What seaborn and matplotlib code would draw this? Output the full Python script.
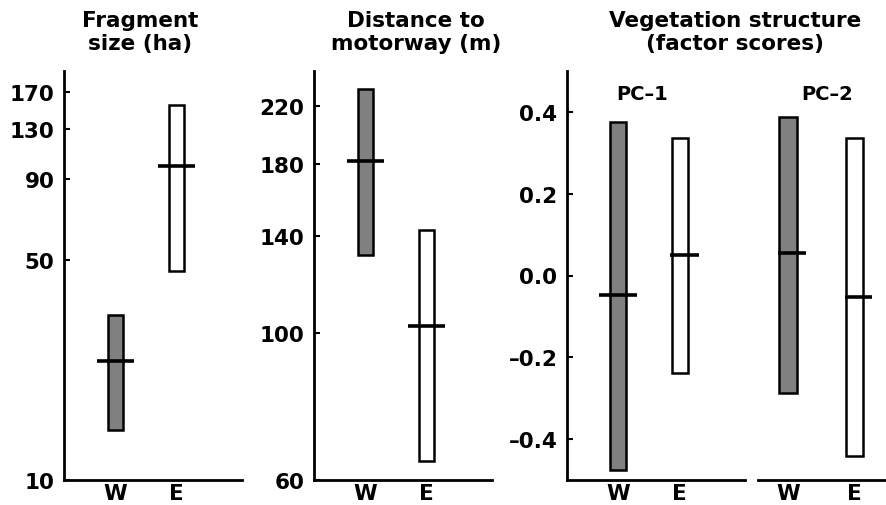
import matplotlib
matplotlib.use("Agg")
import matplotlib.pyplot as plt
import matplotlib.ticker as mticker
import seaborn as sns
import pandas as pd

# sites (west / east of the motorway)
sites = ["W", "E"]

# fragment size (ha), log axis
frag_low = [14.4, 46.0]
frag_high = [33.4, 154.6]
frag_median = [23.8, 99.0]
frag_ticks = [10, 50, 90, 130, 170]

# distance to motorway (m), log axis
dist_low = [131.0, 64.1]
dist_high = [233.4, 143.0]
dist_median = [181.7, 102.5]
dist_ticks = [60, 100, 140, 180, 220]

# vegetation structure factor scores
pc1_low = [-0.475, -0.238]
pc1_high = [0.376, 0.337]
pc1_median = [-0.048, 0.051]
pc2_low = [-0.287, -0.442]
pc2_high = [0.388, 0.337]
pc2_median = [0.056, -0.053]
veg_ticks = [-0.4, -0.2, 0.0, 0.2, 0.4]
veg_labels = ["–0.4", "–0.2", "0.0", "0.2", "0.4"]

fill_colors = ["#808080", "white"]

sns.set_theme(style="ticks")
plt.rcParams["font.family"] = ["DejaVu Sans"]
plt.rcParams["font.weight"] = "bold"
plt.rcParams["text.color"] = "black"
plt.rcParams["xtick.color"] = "black"
plt.rcParams["ytick.color"] = "black"
plt.rcParams["xtick.labelcolor"] = "black"
plt.rcParams["ytick.labelcolor"] = "black"

TICK_FS = 15.5
TITLE_FS = 15.5


def draw_ranges(ax, low, high, median, bar_width, med_extent):
    df = pd.DataFrame({"site": sites,
                       "span": [h - l for h, l in zip(high, low)]})
    sns.barplot(data=df, x="site", y="span", bottom=low, color="white",
                width=bar_width, errorbar=None, edgecolor="black",
                linewidth=1.8, saturation=1, ax=ax)
    for patch, c in zip(ax.patches, fill_colors):
        patch.set_facecolor(c)
    for i, m in enumerate(median):
        ax.hlines(m, i + med_extent[i][0], i + med_extent[i][1],
                  color="black", lw=2.6, zorder=5)
    ax.set_xlabel("")
    ax.set_ylabel("")


def style_axis(ax, xlim, show_y=True):
    ax.set_xlim(*xlim)
    for s in ["top", "right"]:
        ax.spines[s].set_visible(False)
    for s in ["left", "bottom"]:
        ax.spines[s].set_linewidth(2.0)
        ax.spines[s].set_color("black")
    ax.tick_params(axis="x", length=0, pad=2, labelsize=TICK_FS,
                   colors="black")
    ax.tick_params(axis="y", direction="in", length=4, width=1.5,
                   pad=7, labelsize=TICK_FS, colors="black")
    for lab in ax.get_xticklabels() + ax.get_yticklabels():
        lab.set_fontweight("bold")
    if not show_y:
        ax.spines["left"].set_visible(False)
        ax.tick_params(axis="y", left=False, labelleft=False)


W, H = 886, 506
fig = plt.figure(figsize=(W / 100, H / 100), dpi=100)

def px_axes(x0, x1, y0=72, y1=481):
    return fig.add_axes([x0 / W, 1 - y1 / H, (x1 - x0) / W, (y1 - y0) / H])

ax1 = px_axes(64, 242)
ax2 = px_axes(314, 492)
ax3 = px_axes(567, 745)
ax4 = px_axes(758, 886)

centered = [(-0.3, 0.3), (-0.3, 0.3)]

# fragment size
ax1.set_yscale("log")
draw_ranges(ax1, frag_low, frag_high, frag_median, 0.25, centered)
ax1.set_ylim(10, 198)
ax1.yaxis.set_major_locator(mticker.FixedLocator(frag_ticks))
ax1.yaxis.set_minor_locator(mticker.NullLocator())
ax1.set_yticklabels([str(t) for t in frag_ticks])
style_axis(ax1, (-0.84, 2.07))

# distance to motorway
ax2.set_yscale("log")
draw_ranges(ax2, dist_low, dist_high, dist_median, 0.25, centered)
ax2.set_ylim(60, 248.5)
ax2.yaxis.set_major_locator(mticker.FixedLocator(dist_ticks))
ax2.yaxis.set_minor_locator(mticker.NullLocator())
ax2.set_yticklabels([str(t) for t in dist_ticks])
style_axis(ax2, (-0.84, 2.07))

# vegetation structure PC-1
draw_ranges(ax3, pc1_low, pc1_high, pc1_median, 0.26,
            [(-0.31, 0.30), (-0.15, 0.31)])
ax3.set_ylim(-0.5, 0.5)
ax3.set_yticks(veg_ticks)
ax3.set_yticklabels(veg_labels)
style_axis(ax3, (-0.84, 2.07))

# vegetation structure PC-2
draw_ranges(ax4, pc2_low, pc2_high, pc2_median, 0.26,
            [(-0.15, 0.27), (-0.14, 0.26)])
ax4.set_ylim(-0.5, 0.5)
style_axis(ax4, (-0.45, 1.474), show_y=False)

ax3.text(0.42, 0.945, "PC–1", transform=ax3.transAxes, ha="center",
         va="center", fontsize=14, fontweight="bold")
ax4.text(0.54, 0.945, "PC–2", transform=ax4.transAxes, ha="center",
         va="center", fontsize=14, fontweight="bold")

title_y = 1 - 11 / H
fig.text(140 / W, title_y, "Fragment\nsize (ha)", ha="center", va="top",
         fontsize=TITLE_FS, fontweight="bold", linespacing=1.2)
fig.text(416 / W, title_y, "Distance to\nmotorway (m)", ha="center",
         va="top", fontsize=TITLE_FS, fontweight="bold", linespacing=1.2)
fig.text(735 / W, title_y, "Vegetation structure\n(factor scores)",
         ha="center", va="top", fontsize=TITLE_FS, fontweight="bold",
         linespacing=1.2)

fig.savefig("out.png", dpi=100)
